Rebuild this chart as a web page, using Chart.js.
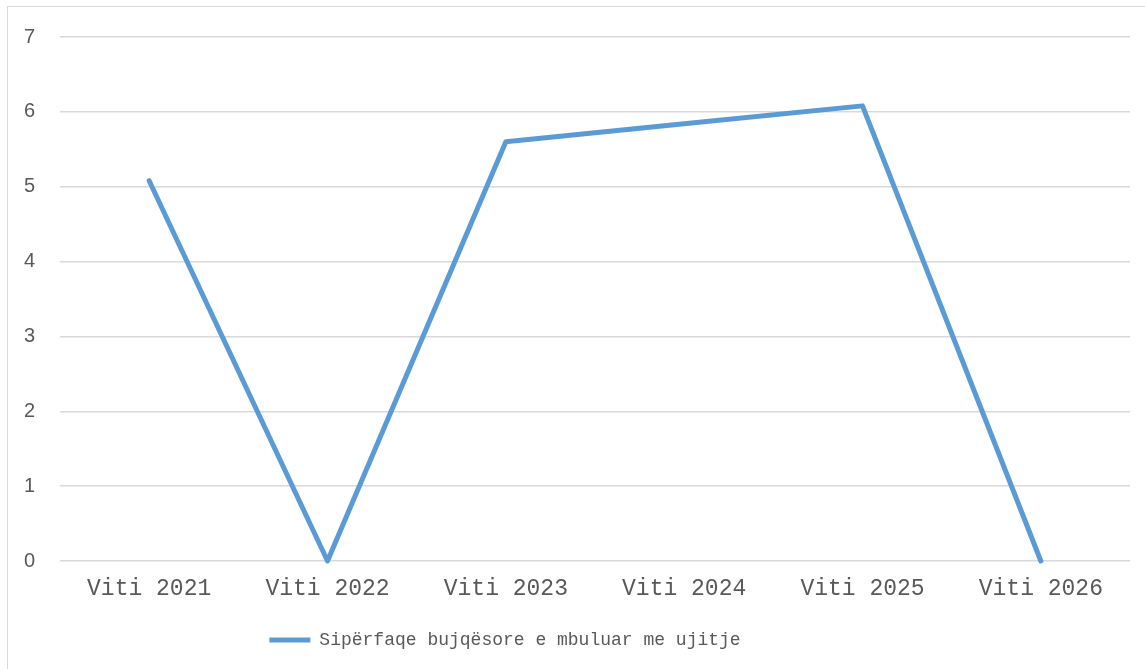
<!DOCTYPE html>
<html>
<head>
<meta charset="utf-8">
<script src="https://cdn.jsdelivr.net/npm/chart.js@4/dist/chart.umd.min.js"></script>
<style>
  html, body { margin: 0; padding: 0; background: #fff; }
  #wrap { width: 1145px; height: 669px; position: relative; }
</style>
</head>
<body>
<div id="wrap"><canvas id="c" width="1145" height="669"></canvas></div>
<script>
const categories = ["Viti 2021", "Viti 2022", "Viti 2023", "Viti 2024", "Viti 2025", "Viti 2026"];
const seriesName = "Sipërfaqe bujqësore e mbuluar me ujitje";
const seriesValues = [5.08, 0, 5.6, 5.84, 6.08, 0];
const yTicks = [0, 1, 2, 3, 4, 5, 6, 7];

const borderPlugin = {
  id: 'outerBorder',
  beforeDraw(chart) {
    const ctx = chart.ctx;
    ctx.save();
    ctx.fillStyle = '#ffffff';
    ctx.fillRect(0, 0, chart.width, chart.height);
    ctx.strokeStyle = '#D9D9D9';
    ctx.lineWidth = 1;
    ctx.strokeRect(7.5, 6.5, chart.width + 10, chart.height + 10);
    ctx.restore();
  },
  afterLayout(chart) {
    if (chart.legend) {
      chart.legend.left -= 60;
      chart.legend.right -= 60;
    }
  }
};

new Chart(document.getElementById('c'), {
  type: 'line',
  data: {
    labels: categories,
    datasets: [{
      label: seriesName,
      data: seriesValues,
      borderColor: '#5B9BD5',
      backgroundColor: '#5B9BD5',
      borderWidth: 5,
      pointRadius: 0,
      pointHoverRadius: 0,
      tension: 0,
      borderCapStyle: 'round',
      borderJoinStyle: 'round',
      clip: false
    }]
  },
  options: {
    responsive: false,
    animation: false,
    devicePixelRatio: 1,
    layout: { padding: { left: 0, right: 15, top: 35, bottom: 10 } },
    scales: {
      x: {
        offset: true,
        grid: { display: false, drawTicks: false },
        border: { display: false },
        ticks: {
          autoSkip: false, maxRotation: 0, minRotation: 0,
          padding: 14,
          color: '#595959',
          font: { family: '"Liberation Mono", "Courier New", monospace', size: 23 }
        },
        afterFit(scale) { scale.height = 60; }
      },
      y: {
        min: 0, max: 7,
        afterBuildTicks(scale) { scale.ticks = yTicks.map(v => ({ value: v })); },
        grid: { color: '#D9D9D9', lineWidth: 1.5, drawTicks: false },
        border: { display: false },
        ticks: {
          padding: 25,
          color: '#595959',
          font: { family: '"Liberation Sans", Arial, sans-serif', size: 20 }
        },
        afterFit(scale) { scale.width = 60; }
      }
    },
    plugins: {
      legend: {
        position: 'bottom',
        labels: {
          usePointStyle: true,
          pointStyle: 'line',
          pointStyleWidth: 41,
          boxWidth: 41,
          padding: 10,
          color: '#595959',
          font: { family: '"Liberation Mono", "Courier New", monospace', size: 18 }
        }
      },
      tooltip: { enabled: false }
    }
  },
  plugins: [borderPlugin]
});
</script>
</body>
</html>
